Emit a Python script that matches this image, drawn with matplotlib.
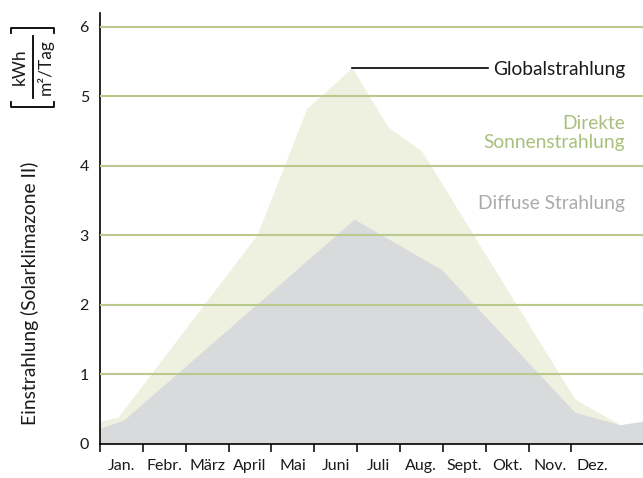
import matplotlib.pyplot as plt
from matplotlib.lines import Line2D

plt.rcParams['font.family'] = ['Lato', 'DejaVu Sans']

# month labels, ticks sit at the start of each month
months = ['Jan.', 'Febr.', 'März', 'April', 'Mai', 'Juni', 'Juli', 'Aug.',
          'Sept.', 'Okt.', 'Nov.', 'Dez.']

# outline of the total (global) irradiation, x in months from 1 Jan
global_x = [0, 0.42, 3.66, 4.83, 5.88, 6.72, 7.51, 11.08, 12.14, 12.67]
global_y = [0.32, 0.38, 3.00, 4.83, 5.41, 4.56, 4.21, 0.64, 0.27, 0.32]

# outline of the diffuse part
diffuse_x = [0, 0.56, 5.93, 7.96, 11.08, 12.14, 12.67]
diffuse_y = [0.22, 0.34, 3.23, 2.51, 0.45, 0.27, 0.32]

grid_green = '#b9ca8c'
text_green = '#a9c07c'
fill_green = '#eef0e0'
fill_grey = '#d9dadc'
text_grey = '#ababab'

fig = plt.figure(figsize=(6.43, 4.78), dpi=100)
ax = fig.add_axes([100 / 643, 34.5 / 478, 543 / 643, 430.5 / 478])

ax.fill_between(global_x, global_y, color=fill_green, lw=0, zorder=1)
ax.fill_between(diffuse_x, diffuse_y, color=fill_grey, lw=0, zorder=2)

# horizontal grid lines in green on top of the areas
for v in range(1, 7):
    ax.axhline(v, color=grid_green, lw=1.5, zorder=3)

ax.set_xlim(0, 12.672)
ax.set_ylim(0, 6.2)

# labels
peak = global_y.index(max(global_y))
ax.plot([global_x[peak], 9.05], [global_y[peak]] * 2, color='black', lw=1.2, zorder=4)
ax.text(12.25, 5.38, 'Globalstrahlung', ha='right', va='center', fontsize=13.8,
        color='#1a1a1a')
ax.text(12.25, 4.47, 'Direkte\nSonnenstrahlung', ha='right', va='center',
        fontsize=13.8, color=text_green, linespacing=1.1)
ax.text(12.25, 3.46, 'Diffuse Strahlung', ha='right', va='center', fontsize=13.8,
        color=text_grey)

# axes
for s in ['top', 'right']:
    ax.spines[s].set_visible(False)
ax.spines['left'].set_linewidth(1.2)
ax.spines['bottom'].set_linewidth(1.2)
ax.set_xticks(range(12))
ax.set_xticklabels([])
ax.set_xticks([i + 0.5 for i in range(12)], minor=True)
ax.set_xticklabels(months, minor=True, fontsize=11.5, color='#1a1a1a')
ax.tick_params(axis='x', which='major', length=5.5, width=1.1, color='black')
ax.tick_params(axis='x', which='minor', length=0, pad=11)
ax.set_yticks(range(7))
ax.tick_params(axis='y', length=0, pad=8, labelsize=11.5, labelcolor='#1a1a1a')

# y axis title and unit
fig.text(30 / 643, 1 - 293 / 478, 'Einstrahlung (Solarklimazone II)',
         rotation=90, ha='center', va='center', fontsize=13.9, color='#1a1a1a')
fig.text(20 / 643, 1 - 67 / 478, 'kWh', rotation=90, ha='center', va='center',
         fontsize=12.5, color='#1a1a1a')
fig.text(45 / 643, 1 - 67 / 478, 'm²/Tag', rotation=90, ha='center', va='center',
         fontsize=12.5, color='#1a1a1a')


def px(x, y):
    return x / 643, 1 - y / 478


bar_lines = [
    [(33, 36), (33, 98)],                             # fraction bar
    [(11, 33), (11, 28), (54, 28), (54, 33)],         # top bracket
    [(11, 102), (11, 107), (54, 107), (54, 102)],     # bottom bracket
]
for pts in bar_lines:
    xs, ys = zip(*[px(*p) for p in pts])
    fig.add_artist(Line2D(xs, ys, color='black', lw=1.3))

fig.savefig('out.png', dpi=100)
